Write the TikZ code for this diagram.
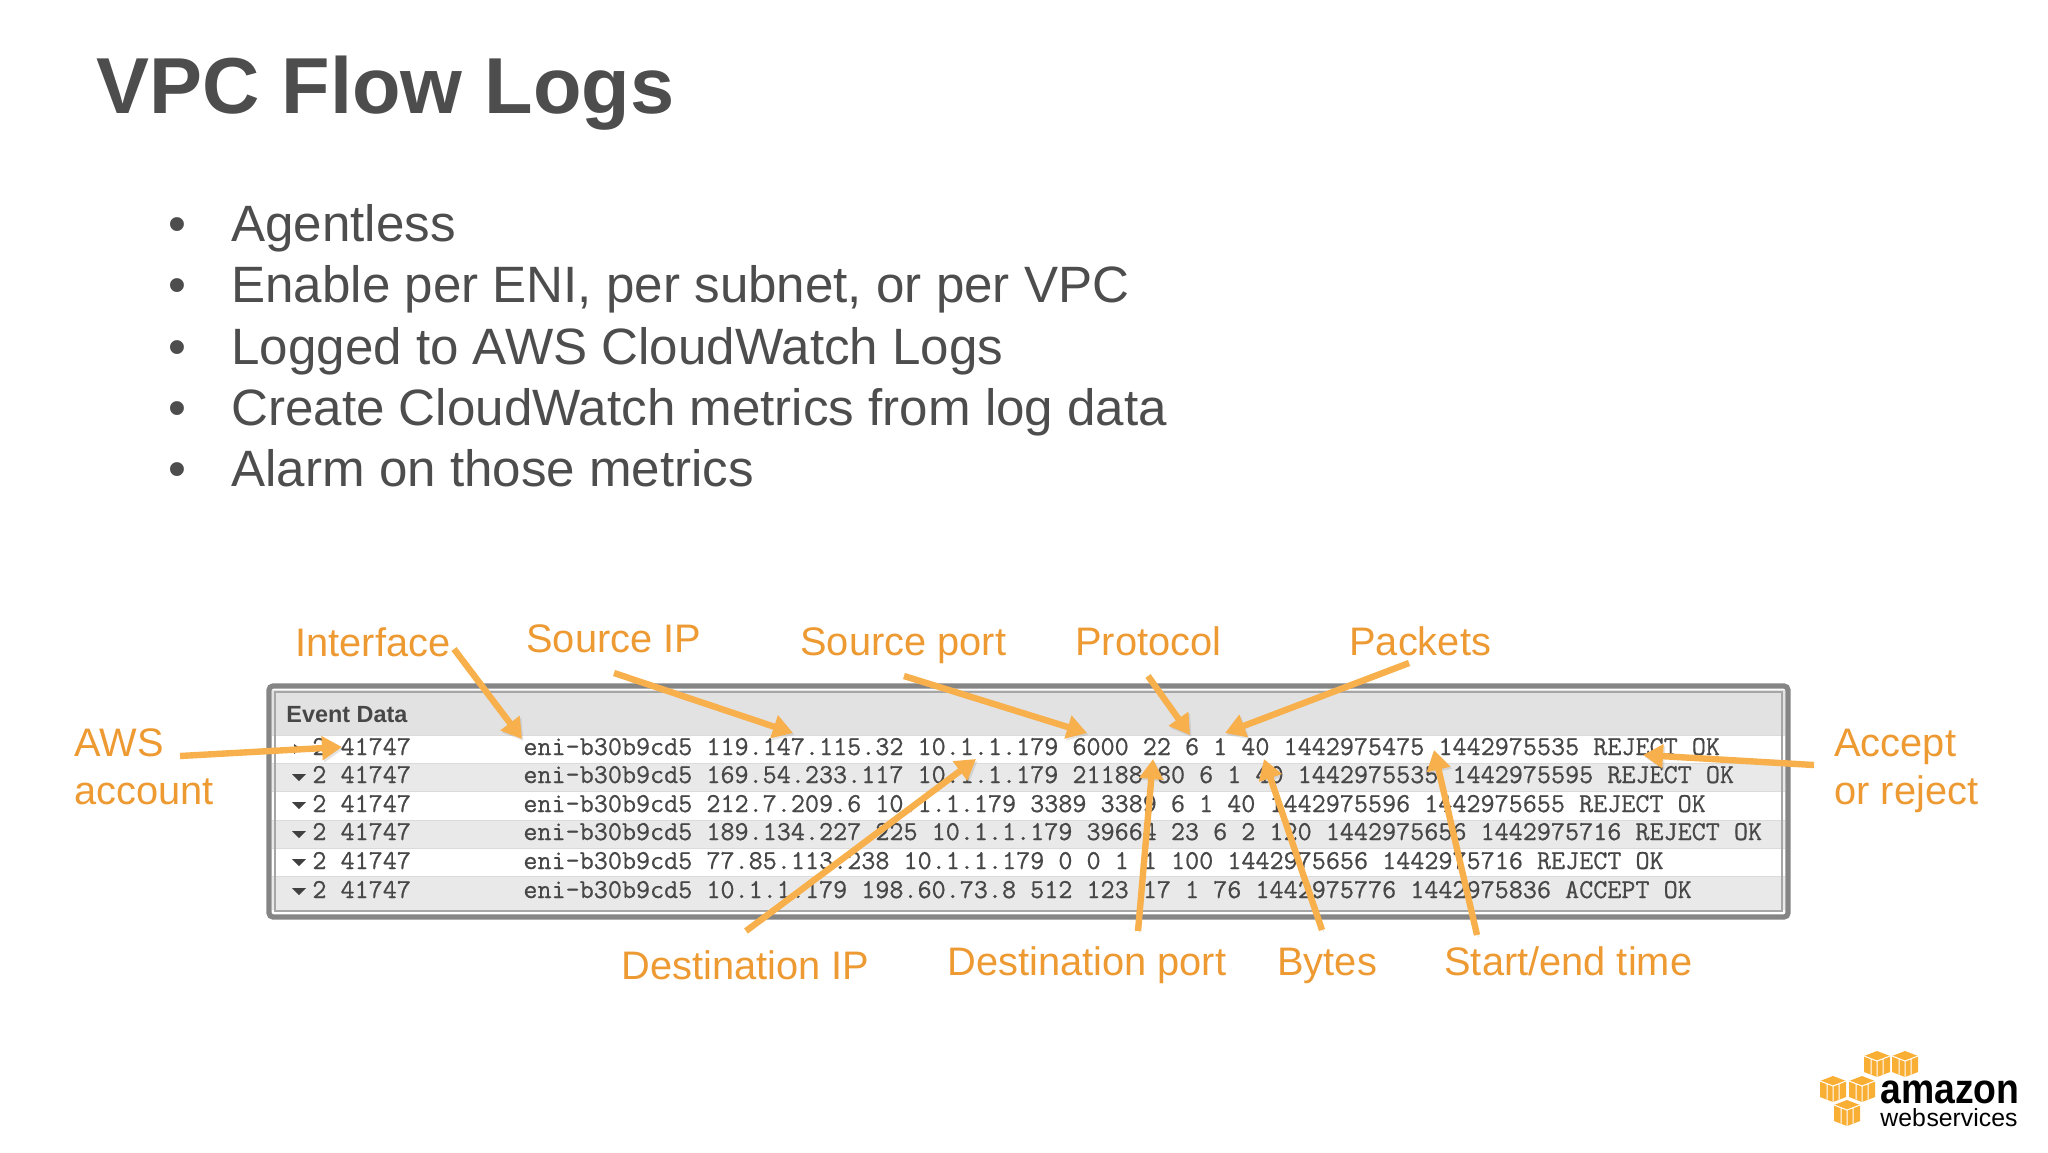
\documentclass[tikz,border=0pt]{standalone}
\usepackage{fontspec}
\setmainfont{Liberation Sans}
\newfontfamily\rowfont[FakeBold=0.6]{Latin Modern Mono}
\usetikzlibrary{arrows.meta}
\definecolor{slidegray}{HTML}{4D4D4D}
\definecolor{labelorange}{HTML}{EE9A33}
\definecolor{arroworange}{HTML}{F7B04C}
\definecolor{bandgray}{HTML}{E9E9E9}
\definecolor{headgray}{HTML}{E2E2E3}
\definecolor{cubeorange}{HTML}{F9AE34}
\tikzset{
  x=0.5pt,y=-0.5pt,
  titletext/.style={anchor=base west,inner sep=0,text=slidegray,font=\bfseries\fontsize{39.7}{44}\selectfont},
  bullettext/.style={anchor=base west,inner sep=0,text=slidegray,font=\fontsize{25.56}{30}\selectfont},
  lab/.style={anchor=base west,inner sep=0,text=labelorange,font=\fontsize{19.9}{24}\selectfont},
  rowtext/.style={anchor=base west,inner sep=0,text=black!72,font=\rowfont\fontsize{13.67}{15}\selectfont},
  callout/.style={draw=arroworange,line width=3.2pt,-{Triangle[width=11.5pt,length=10pt]},
    preaction={draw=black!55,opacity=.18,transform canvas={shift={(0.8pt,-1pt)}}}},
}
\newcommand{\cubeat}[2]{%
  \fill[cubeorange] (#1,#2) -- ++(13,5) -- ++(0,16) -- ++(-13,5) -- ++(-13,-5) -- ++(0,-16) -- cycle;
  \draw[white,line width=.5pt] (#1-13,#2+5) -- (#1,#2+10) -- (#1+13,#2+5) (#1,#2+10) -- (#1,#2+26)
    (#1-6,#2+7.5) -- (#1-6,#2+23.5) (#1+6,#2+7.5) -- (#1+6,#2+23.5);
}
\begin{document}
\begin{tikzpicture}
\useasboundingbox (0,0) rectangle (2048,1152);
\fill[white] (0,0) rectangle (2048,1152);
% title and bullets
\node[titletext] (title) at (96,113) {VPC Flow Logs};
\foreach \nm/\yy/\tx in {b1/241/Agentless,b2/302/{Enable per ENI, per subnet, or per VPC},b3/364/Logged to AWS CloudWatch Logs,b4/425/Create CloudWatch metrics from log data,b5/486/Alarm on those metrics}{
  \node[bullettext] (\nm) at (231,\yy) {\tx};
  \node[bullettext] (\nm d) at (168,\yy) {•};
}
% table
\fill[headgray] (272,690) rectangle (1785,735);
\fill[white] (272,735) rectangle (1785,763);
\fill[bandgray] (272,763) rectangle (1785,791);
\fill[white] (272,791) rectangle (1785,820);
\fill[bandgray] (272,820) rectangle (1785,848);
\fill[white] (272,848) rectangle (1785,876);
\fill[bandgray] (272,876) rectangle (1785,910);
\draw[black!14,line width=.5pt] (272,735) -- (1785,735) (272,763) -- (1785,763) (272,791) -- (1785,791) (272,820) -- (1785,820) (272,848) -- (1785,848) (272,876) -- (1785,876);
\draw[black!48,line width=2.6pt,rounded corners=2pt] (269,686) rectangle (1788,917);
\draw[black!35,line width=.7pt] (275,692) rectangle (1782,911);
\node[anchor=base west,inner sep=0,text=black!72,font=\bfseries\fontsize{11.7}{14}\selectfont] (hdr) at (286,722) {Event Data};
\foreach \nm/\yy/\tx in {
  r1/755/{eni-b30b9cd5 119.147.115.32 10.1.1.179 6000 22 6 1 40 1442975475 1442975535 REJECT OK},
  r2/783/{eni-b30b9cd5 169.54.233.117 10.1.1.179 21188 80 6 1 40 1442975535 1442975595 REJECT OK},
  r3/812/{eni-b30b9cd5 212.7.209.6 10.1.1.179 3389 3389 6 1 40 1442975596 1442975655 REJECT OK},
  r4/840/{eni-b30b9cd5 189.134.227.225 10.1.1.179 39664 23 6 2 120 1442975656 1442975716 REJECT OK},
  r5/869/{eni-b30b9cd5 77.85.113.238 10.1.1.179 0 0 1 1 100 1442975656 1442975716 REJECT OK},
  r6/898/{eni-b30b9cd5 10.1.1.179 198.60.73.8 512 123 17 1 76 1442975776 1442975836 ACCEPT OK}}{
  \node[rowtext] (\nm) at (523,\yy) {\tx};
  \node[rowtext] (\nm a) at (312,\yy) {2 41747};
}
\fill[black!75] (294,744) -- (301,749) -- (294,754) -- cycle;
\foreach \yy in {774,802,831,859,888}{
  \fill[black!75] (292,\yy) -- (306,\yy) -- (299,\yy+7) -- cycle;
}
% labels
\node[lab] (aws) at (74,756) {AWS};
\node[lab] (acct) at (74,804) {account};
\node[lab] (iface) at (295,656) {Interface};
\node[lab] (srcip) at (526,652) {Source IP};
\node[lab] (srcport) at (800,655) {Source port};
\node[lab] (proto) at (1075,655) {Protocol};
\node[lab] (pkts) at (1349,655) {Packets};
\node[lab] (acc) at (1834,756) {Accept};
\node[lab] (rej) at (1834,804) {or reject};
\node[lab] (dstip) at (621,979) {Destination IP};
\node[lab] (dstport) at (947,975) {Destination port};
\node[lab] (bytes) at (1277,975) {Bytes};
\node[lab] (time) at (1444,975) {Start/end time};
% connector ends
\coordinate (awsS) at (180,756); \coordinate (awsE) at (342,747);
\coordinate (ifS) at (454,649); \coordinate (ifE) at (522,739);
\coordinate (siS) at (614,673); \coordinate (siE) at (793,733);
\coordinate (spS) at (904,676); \coordinate (spE) at (1087,733);
\coordinate (prS) at (1148,676); \coordinate (prE) at (1190,735);
\coordinate (pkS) at (1409,663); \coordinate (pkE) at (1225,733);
\coordinate (acS) at (1814,765); \coordinate (acE) at (1643,755);
\coordinate (diS) at (746,931); \coordinate (diE) at (976,759);
\coordinate (dpS) at (1138,931); \coordinate (dpE) at (1153,759);
\coordinate (byS) at (1322,930); \coordinate (byE) at (1264,759);
\coordinate (tmS) at (1477,935); \coordinate (tmE) at (1434,750);
\foreach \a/\b in {awsS/awsE,ifS/ifE,siS/siE,spS/spE,prS/prE,pkS/pkE,acS/acE,diS/diE,dpS/dpE,byS/byE,tmS/tmE}{
  \draw[callout] (\a) -- (\b);
}
% logo
\cubeat{1877}{1051}\cubeat{1905}{1051}\cubeat{1833}{1076}\cubeat{1862}{1076}\cubeat{1847}{1100}
\node[anchor=base west,inner sep=0,font=\bfseries\fontsize{21}{24}\selectfont] (amz) at (1880,1103) {\scalebox{.89}[1]{amazon}};
\node[anchor=base west,inner sep=0,font=\fontsize{12.4}{14}\selectfont] (ws) at (1880,1126) {web\kern.3pt services};
\end{tikzpicture}
\end{document}
